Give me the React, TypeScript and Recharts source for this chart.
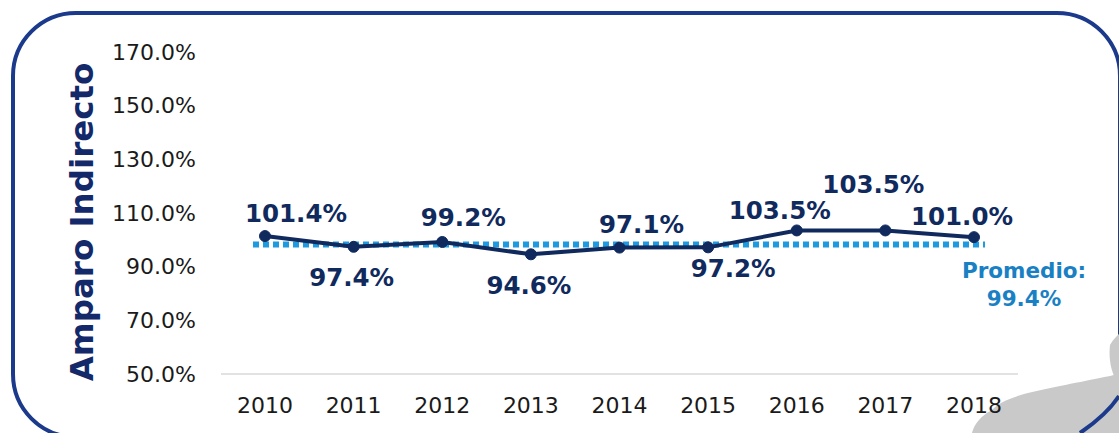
import { LineChart, Line, XAxis, YAxis, ReferenceLine, LabelList } from 'recharts';

// Valores (porcentaje)
const YEARS = ['2010', '2011', '2012', '2013', '2014', '2015', '2016', '2017', '2018'];
const AMPARO_INDIRECTO = [101.4, 97.4, 99.2, 94.6, 97.1, 97.2, 103.5, 103.5, 101.0];
const PROMEDIO = 99.4;
const Y_TICKS = [50, 70, 90, 110, 130, 150, 170];

const NAVY = '#102a5e';
const FRAME = '#1b3a8c';
const AVG_BLUE = '#1e9be0';
const AVG_TEXT = '#1a80c4';
const FONT = '"DejaVu Sans", Verdana, sans-serif';

// where each value label sits relative to its point (dx, dy)
const LABEL_OFFSETS = [
    [31, -23], [-2, 31], [21, -24], [-2, 31], [22, -23],
    [25, 21], [-17, -20], [-12, -46], [-12, -21],
];

const data = YEARS.map((year, i) => ({ year, valor: AMPARO_INDIRECTO[i] }));

const fmt = (v: number) => `${v.toFixed(1)}%`;

const ValueLabel = (props: any) => {
    const { x, y, value, index } = props;
    const [dx, dy] = LABEL_OFFSETS[index] || [0, -20];
    return (
        <text
            x={x + dx}
            y={y + dy}
            textAnchor="middle"
            dominantBaseline="central"
            fontFamily={FONT}
            fontWeight="bold"
            fontSize={24.5}
            fill={NAVY}
        >
            {fmt(value)}
        </text>
    );
};

// dashed average line, a little shorter than the plot area (drawn slightly low, as in the original)
const AvgShape = (props: any) => {
    const { x1, x2, y1 } = props;
    return (
        <line
            x1={x1 + 32}
            x2={x2 - 33}
            y1={y1 + 3}
            y2={y1 + 3}
            stroke={AVG_BLUE}
            strokeWidth={6}
            strokeDasharray="6 4"
        />
    );
};

const AvgLabel = (props: any) => {
    const { viewBox } = props;
    const x = viewBox.x + viewBox.width + 6;
    const y = viewBox.y;
    return (
        <text textAnchor="middle" fontFamily={FONT} fontWeight="bold" fontSize={21.5} fill={AVG_TEXT}>
            <tspan x={x} y={y + 37}>Promedio:</tspan>
            <tspan x={x} y={y + 65}>{fmt(PROMEDIO)}</tspan>
        </text>
    );
};

const YTitle = (props: any) => {
    const { viewBox } = props;
    const cx = viewBox.x - 59;
    const cy = 222;
    return (
        <text
            x={cx}
            y={cy}
            transform={`rotate(-90, ${cx}, ${cy})`}
            textAnchor="middle"
            dominantBaseline="central"
            fontFamily={FONT}
            fontWeight="bold"
            fontSize={32.5}
            fill="#13296a"
        >
            Amparo Indirecto
        </text>
    );
};

export default function App() {
    return (
        <div style={{ position: 'absolute', left: 0, top: 0, width: 1119, height: 433, overflow: 'hidden', background: '#fff' }}>
            {/* marco y adorno */}
            <svg width={1119} height={433} style={{ position: 'absolute', left: 0, top: 0 }}>
                <rect x={13} y={13} width={1107} height={424} rx={63} ry={63} fill="none" stroke={FRAME} strokeWidth={4} />
                <path d="M1110 345 C1114 338 1119 334 1119 334 L1119 383 C1113 378 1108 362 1110 345 Z" fill="#c9c9c9" />
                <path d="M992 410 C1002 398 1030 392 1060 386 C1090 380 1110 376 1119 374 L1119 433 L972 433 C974 424 982 415 992 410 Z" fill="#c9c9c9" />
                <path d="M1080 433 C1096 422 1110 410 1119 396" fill="none" stroke={FRAME} strokeWidth={4} />
            </svg>
            <div style={{ position: 'absolute', left: 0, top: 0 }}>
                <LineChart width={1119} height={433} data={data} margin={{ top: 52, right: 101, bottom: 29, left: 141 }}>
                    <XAxis
                        dataKey="year"
                        height={30}
                        padding={{ left: 44, right: 44 }}
                        tickLine={false}
                        tickSize={0}
                        tickMargin={23}
                        axisLine={{ stroke: '#e2e2e2', strokeWidth: 2 }}
                        tick={{ fontFamily: FONT, fontSize: 22, fill: '#1a1a1a' }}
                        interval={0}
                    />
                    <YAxis
                        width={80}
                        domain={[50, 170]}
                        ticks={Y_TICKS}
                        tickFormatter={fmt}
                        axisLine={false}
                        tickLine={false}
                        tickSize={0}
                        tickMargin={25}
                        tick={{ fontFamily: FONT, fontSize: 22, fill: '#1a1a1a' }}
                        label={<YTitle />}
                    />
                    <ReferenceLine y={PROMEDIO} shape={<AvgShape />} label={<AvgLabel />} />
                    <Line
                        dataKey="valor"
                        type="linear"
                        stroke={NAVY}
                        strokeWidth={4}
                        dot={{ r: 5.5, fill: NAVY, stroke: NAVY, strokeWidth: 1 }}
                        activeDot={false}
                        isAnimationActive={false}
                    >
                        <LabelList dataKey="valor" content={<ValueLabel />} />
                    </Line>
                </LineChart>
            </div>
        </div>
    );
}
